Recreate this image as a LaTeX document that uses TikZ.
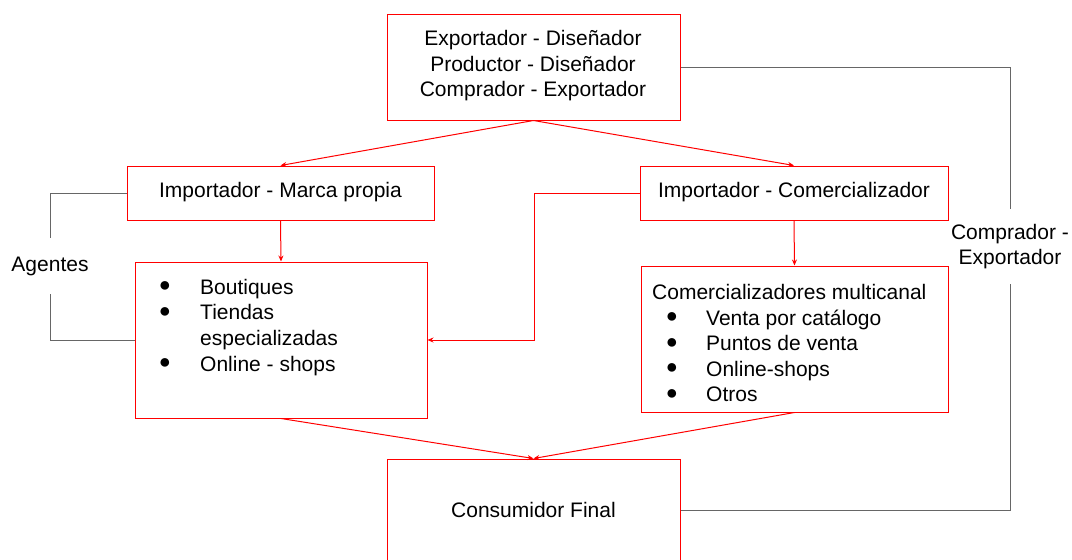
\documentclass[tikz,border=0pt]{standalone}
\usepackage{fontspec}
\setmainfont{Liberation Sans}
\usetikzlibrary{arrows.meta}
\begin{document}
\begin{tikzpicture}[x=1pt,y=-1pt,
 box/.style={draw=red, line width=1pt, inner sep=0pt},
 conn/.style={draw=red, line width=1pt, -{Stealth[length=6pt,width=5pt]}},
 link/.style={draw=black!60, line width=0.9pt},
 txt/.style={font=\fontsize{21}{25.5}\selectfont, inner sep=0pt},
 bul/.style={font=\fontsize{20}{22}\selectfont, inner sep=0pt}]
\useasboundingbox (0,0) rectangle (1072,560);
\clip (0,0) rectangle (1072,560);
% boxes
\node[box, minimum width=293pt, minimum height=106pt] (top) at (533.5,67) {};
\node[box, minimum width=307pt, minimum height=54pt] (lmid) at (280.5,193) {};
\node[box, minimum width=308pt, minimum height=54pt] (rmid) at (794,193) {};
\node[box, minimum width=292pt, minimum height=156pt] (llist) at (281,340) {};
\node[box, minimum width=307pt, minimum height=146pt] (rlist) at (794.5,339) {};
\node[box, minimum width=293pt, minimum height=103pt] (bottom) at (533.5,510.5) {};
% texts
\node[txt, align=center] (toptext) at (533,66) {Exportador - Diseñador\\Productor - Diseñador\\Comprador - Exportador};
\node[txt] (lmidtext) at (280.5,192) {Importador - Marca propia};
\node[txt] (rmidtext) at (794,192) {Importador - Comercializador};
\node[txt] (bottomtext) at (533.5,510) {Consumidor Final};
% left list
\node[bul] (lb1) at (165,287) {●};
\node[bul] (lb2) at (165,313) {●};
\node[bul] (lb3) at (165,364) {●};
\node[txt, anchor=base west] (li1) at (200,294) {Boutiques};
\node[txt, anchor=base west, align=left] (li2) at (200,345) {Tiendas\\especializadas};
\node[txt, anchor=base west] (li3) at (200,371) {Online - shops};
% right list
\node[txt, anchor=base west] (rhead) at (652,299) {Comercializadores multicanal};
\node[bul] (rb1) at (672,318) {●};
\node[bul] (rb2) at (672,344) {●};
\node[bul] (rb3) at (672,369) {●};
\node[bul] (rb4) at (672,395) {●};
\node[txt, anchor=base west] (ri1) at (706,325) {Venta por catálogo};
\node[txt, anchor=base west] (ri2) at (706,350) {Puntos de venta};
\node[txt, anchor=base west] (ri3) at (706,376) {Online-shops};
\node[txt, anchor=base west] (ri4) at (706,401) {Otros};
% side labels
\node[txt, minimum height=56pt] (agentes) at (50,266) {Agentes};
\node[txt, align=center, minimum height=75pt] (comp) at (1010,246.5) {Comprador -\\Exportador};
% red connectors
\draw[conn] (top.south) -- (lmid.north);
\draw[conn] (top.south) -- (rmid.north);
\draw[conn] (lmid.south) -- (llist.north);
\draw[conn] (rmid.south) -- (rlist.north);
\draw[conn] (rmid.west) -- ++(-105,0) |- (llist.east);
\draw[conn] (llist.south) -- (bottom.north);
\draw[conn] (rlist.south) -- (bottom.north);
% gray links
\draw[link] (lmid.west) -| (agentes.north);
\draw[link] (agentes.south) |- (llist.west);
\draw[link] (top.east) -| (comp.north);
\draw[link] (comp.south) |- (bottom.east);
\end{tikzpicture}
\end{document}
